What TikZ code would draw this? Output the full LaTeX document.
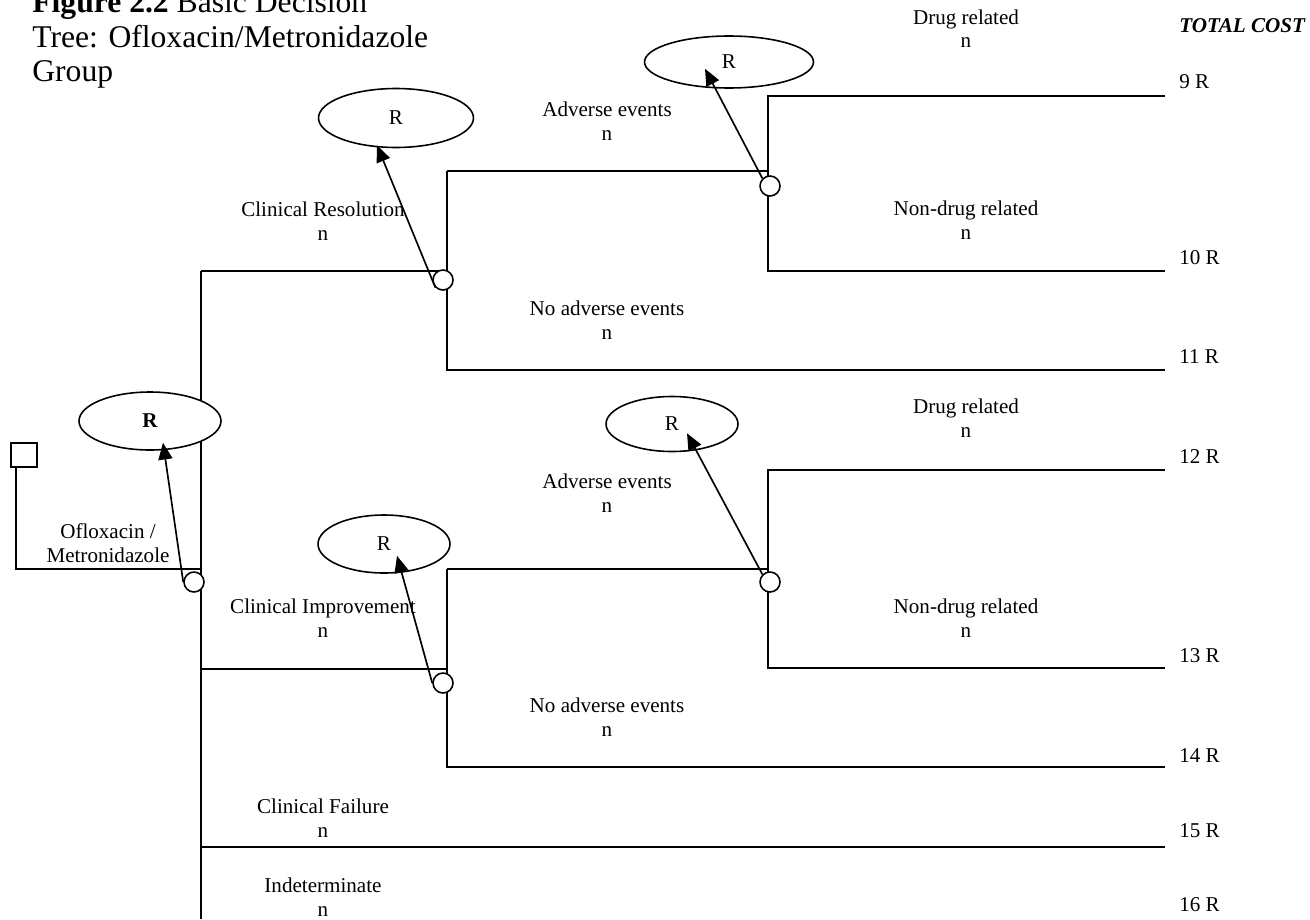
\documentclass[tikz,border=0pt]{standalone}
\usepackage{fontspec}
\setmainfont{Liberation Serif}
\usetikzlibrary{shapes.geometric,arrows.meta}

\tikzset{
  branch/.style={line width=1.3pt},
  chance/.style={circle, draw, line width=0.9pt, fill=white, minimum size=0.4cm, inner sep=0pt},
  cost/.style={ellipse, draw, line width=0.9pt, fill=white, inner sep=2pt, font=\fontsize{12}{13.6}\selectfont},
  link/.style={-{Triangle[length=9.5pt,width=8pt]}, line width=0.95pt},
  lbl/.style={font=\fontsize{12}{13.6}\selectfont, align=center, anchor=base, inner sep=0pt},
  val/.style={font=\fontsize{12}{13.6}\selectfont, anchor=base west, inner sep=0pt}
}

\begin{document}
\begin{tikzpicture}[x=0.02cm, y=-0.02cm]
        \useasboundingbox (0,0) rectangle (1310,919);

        % Title
        \node[font=\fontsize{18}{19.8}\selectfont, align=left, anchor=base west, inner sep=0pt] (title) at (32,82)
          {\textbf{Figure 2.2} Basic Decision\\Tree: Ofloxacin/Metronidazole\\Group};

        % Decision node
        \node[draw, line width=1pt, minimum width=0.52cm, minimum height=0.48cm, inner sep=0pt] (dec) at (24,455) {};

        % Tree corners
        \coordinate (root) at (16,569);
        \coordinate (trunkT) at (201,271);
        \coordinate (trunkB) at (201,919);
        \coordinate (resT) at (447,171);
        \coordinate (resB) at (447,370);
        \coordinate (advT) at (768,96);
        \coordinate (advB) at (768,271);
        \coordinate (impJ) at (447,669);
        \coordinate (impT) at (447,569);
        \coordinate (impB) at (447,767);
        \coordinate (adv2T) at (768,470);
        \coordinate (adv2B) at (768,668);
        \coordinate (fail) at (1165,847);
        \coordinate (endx) at (1165,0);

        % Branches
        \draw[branch] (dec.south -| root) -- (root) -- (root -| trunkT);
        \draw[branch] (trunkT) -- (trunkB);
        \draw[branch] (trunkT) -- (trunkT -| resT);
        \draw[branch] (resT) -- (resB) -- (resB -| endx);
        \draw[branch] (resT) -- (resT -| advT);
        \draw[branch] (advT -| endx) -- (advT) -- (advB) -- (advB -| endx);
        \draw[branch] (trunkT |- impJ) -- (impJ);
        \draw[branch] (impT) -- (impB) -- (impB -| endx);
        \draw[branch] (impT) -- (impT -| adv2T);
        \draw[branch] (adv2T -| endx) -- (adv2T) -- (adv2B) -- (adv2B -| endx);
        \draw[branch] (trunkT |- fail) -- (fail);

        % Chance nodes
        \foreach \i/\x/\y in {0/194/582, 1/443/280, 2/770/186, 3/443/683, 4/770/582} {
          \node[chance] (c\i) at (\x,\y) {};
        }

        % Rate ellipses
        \node[cost, minimum width=2.84cm, minimum height=1.16cm] (e0) at (150,421) {\textbf{R}\hspace{31.7pt}};
        \node[cost, minimum width=3.1cm, minimum height=1.18cm] (e1) at (396,118) {R\hspace{37.4pt}};
        \node[cost, minimum width=3.38cm, minimum height=1.04cm] (e2) at (729,62) {R\hspace{42pt}};
        \node[cost, minimum width=2.64cm, minimum height=1.16cm] (e3) at (384,544) {R\hspace{28.3pt}};
        \node[cost, minimum width=2.64cm, minimum height=1.1cm] (e4) at (672,424) {R\hspace{28.3pt}};

        % Branch labels (placed at the baseline of their last line)
        \node[lbl] (ofx) at (108,562) {Ofloxacin /\\Metronidazole};
        \node[lbl] (cres) at (323,240) {Clinical Resolution\\n};
        \node[lbl] (adv1) at (607,140) {Adverse events\\n};
        \node[lbl] (noadv1) at (607,339) {No adverse events\\n};
        \node[lbl] (drug1) at (966,48) {Drug related\\n};
        \node[lbl] (nondrug1) at (966,239) {Non-drug related\\n};
        \node[lbl] (drug2) at (966,437) {Drug related\\n};
        \node[lbl] (adv2) at (607,512) {Adverse events\\n};
        \node[lbl] (cimp) at (323,637) {Clinical Improvement\\n};
        \node[lbl] (nondrug2) at (966,637) {Non-drug related\\n};
        \node[lbl] (noadv2) at (607,736) {No adverse events\\n};
        \node[lbl] (cfail) at (323,837) {Clinical Failure\\n};
        \node[lbl] (indet) at (323,916) {Indeterminate\\n};

        % Total cost column
        \node[val, font=\fontsize{12}{13.6}\selectfont\bfseries\itshape] (total) at (1179,33) {TOTAL COST};
        \foreach \n/\y in {9/89, 10/264, 11/363, 12/463, 13/662, 14/762, 15/837, 16/911} {
          \node[val] (v\n) at (1179,\y) {\n\ R};
        }

        % Arrows from chance nodes to rates
        \draw[link] (c0.west) -- ([shift={(13,-8)}]e0.south);
        \draw[link] (c1.south west) -- ([shift={(-19,-3)}]e1.south);
        \draw[link] (c2.north west) -- ([shift={(-24,-20)}]e2.south);
        \draw[link] (c3.west) -- ([shift={(13,-18)}]e3.south);
        \draw[link] (c4.north west) -- ([shift={(15,-19)}]e4.south);
      \end{tikzpicture}
\end{document}
